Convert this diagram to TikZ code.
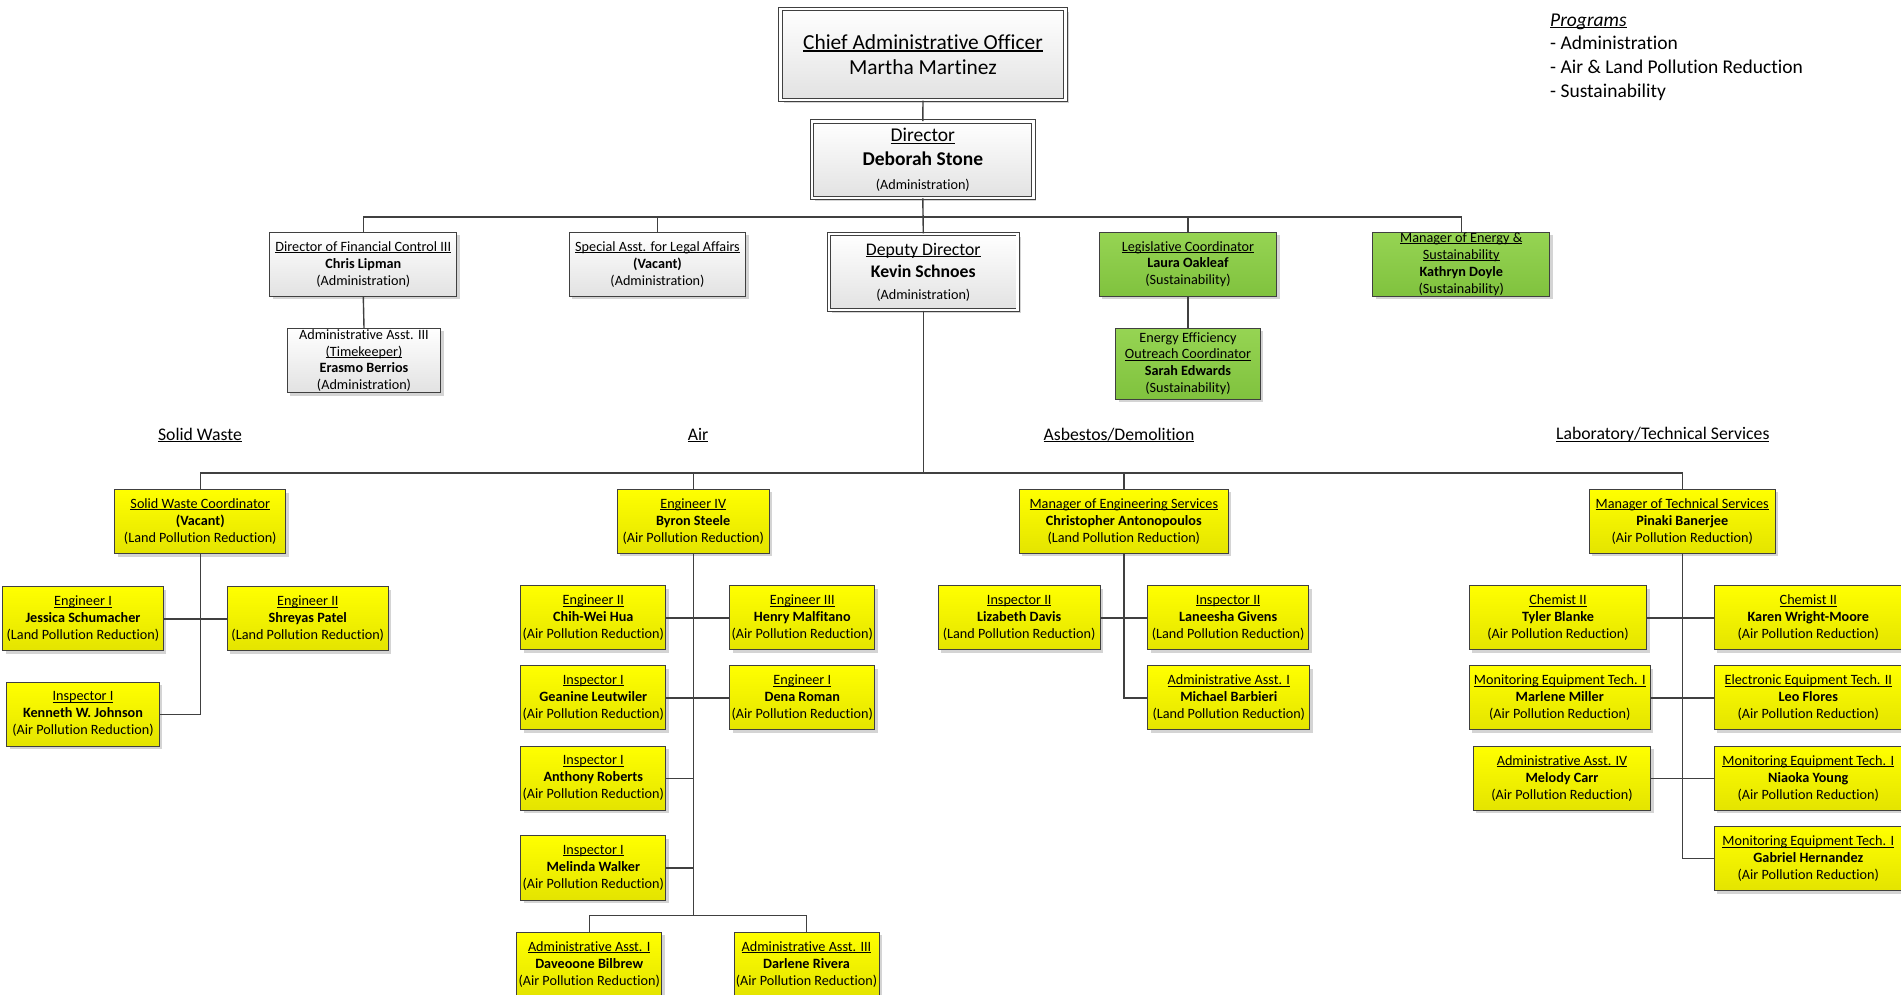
\documentclass[tikz,border=0pt]{standalone}
\usepackage{fontspec}
\setmainfont{Carlito}[Ligatures=NoCommon]
\usetikzlibrary{shadows}
\definecolor{bordc}{HTML}{404040}
\definecolor{linec}{HTML}{404040}
\definecolor{ytop}{HTML}{FFFF00}
\definecolor{ybot}{HTML}{E4E400}
\definecolor{gtop}{HTML}{96D453}
\definecolor{gbot}{HTML}{80C23E}
\definecolor{wtop}{HTML}{FFFFFF}
\definecolor{wbot}{HTML}{E2E2E2}
\definecolor{shad}{HTML}{D4D4D4}
\newcommand\ulx[1]{\setbox0\hbox{#1}\rlap{\rule[-0.12em]{\wd0}{0.065em}}\box0}
\newcommand\fsm{\fontsize{14.2}{16.9}\selectfont}
\newcommand\yb[6]{\node[ybox, minimum width=#3pt] (#1) at #2 {\ulx{#4}\\\textbf{#5}\\(#6)};}
\begin{document}
\begin{tikzpicture}[x=1pt,y=-1pt,
  box/.style={draw=bordc, line width=1pt, inner sep=0pt, align=center, font=\fsm,
    drop shadow={shadow xshift=3pt, shadow yshift=-3pt, fill=shad, opacity=1}},
  ybox/.style={box, top color=ytop, bottom color=ybot, minimum height=64.2pt},
  gbox/.style={box, top color=gtop, bottom color=gbot},
  wbox/.style={box, top color=wtop, bottom color=wbot},
  dbox/.style={wbox, double=white, double distance=2.6pt, line width=0.9pt},
  conn/.style={draw=linec, line width=1.4pt},
  sect/.style={inner sep=0pt, font=\fontsize{17.7}{21}\selectfont},
]
\useasboundingbox (0,0) rectangle (1901,994);

% top level
\node[dbox, minimum width=285pt, minimum height=91.2pt, font=\fontsize{21.4}{25.6}\selectfont] (cao) at (923,54.5)
  {\ulx{Chief Administrative Officer}\\Martha Martinez};
\node[dbox, minimum width=221.3pt, minimum height=76.3pt, font=\fontsize{19.5}{24}\selectfont] (dir) at (922.8,159.7)
  {\ulx{Director}\\\textbf{Deborah Stone}\\{\fsm (Administration)}};
\node[dbox, minimum width=188.9pt, minimum height=76.2pt, font=\fontsize{17.7}{22}\selectfont] (dep) at (923.3,272)
  {\ulx{Deputy Director}\\\textbf{Kevin Schnoes}\\{\fsm (Administration)}};

\node[wbox, minimum width=186.7pt, minimum height=63.7pt] (dfc) at (363.3,264.2)
  {\ulx{Director of Financial Control III}\\\textbf{Chris Lipman}\\(Administration)};
\node[wbox, minimum width=153.4pt, minimum height=64.4pt] (aa3) at (364,360.5)
  {Administrative Asst. III\\\ulx{(Timekeeper)}\\\textbf{Erasmo Berrios}\\(Administration)};
\node[wbox, minimum width=176.4pt, minimum height=63.7pt] (sala) at (657.5,264.2)
  {\ulx{Special Asst. for Legal Affairs}\\\textbf{(Vacant)}\\(Administration)};
\node[gbox, minimum width=177.4pt, minimum height=63.7pt] (leg) at (1188,264.2)
  {\ulx{Legislative Coordinator}\\\textbf{Laura Oakleaf}\\(Sustainability)};
\node[gbox, minimum width=144.6pt, minimum height=70.7pt] (eeo) at (1188,363.7)
  {Energy Efficiency\\\ulx{Outreach Coordinator}\\\textbf{Sarah Edwards}\\(Sustainability)};
\node[gbox, minimum width=177.3pt, minimum height=63.7pt] (moe) at (1461.3,264.2)
  {\ulx{Manager of Energy \&}\\\ulx{Sustainability}\\\textbf{Kathryn Doyle}\\(Sustainability)};

% programs legend
\node[inner sep=0pt, anchor=north west, align=left, font=\fontsize{19.5}{23.8}\selectfont] (prog) at (1550,13.4)
  {\ulx{\itshape Programs}\\- Administration\\- Air \& Land Pollution Reduction\\- Sustainability};

% section headers
\node[sect] (hsw) at (200,435) {\ulx{Solid Waste}};
\node[sect] (hair) at (698,435) {\ulx{Air}};
\node[sect] (hasb) at (1119,435) {\ulx{Asbestos/Demolition}};
\node[sect] (hlab) at (1662.8,435) {\ulx{Laboratory/Technical Services}};

% solid waste
\yb{swc}{(200.3,521.6)}{170.7}{Solid Waste Coordinator}{(Vacant)}{Land Pollution Reduction}
\yb{jess}{(83,618.8)}{160.6}{Engineer I}{Jessica Schumacher}{Land Pollution Reduction}
\yb{shre}{(307.8,618.8)}{161}{Engineer II}{Shreyas Patel}{Land Pollution Reduction}
\yb{kenn}{(83,714.2)}{152.6}{Inspector I}{Kenneth W. Johnson}{Air Pollution Reduction}
% air
\yb{byr}{(693.2,521.3)}{151.7}{Engineer IV}{Byron Steele}{Air Pollution Reduction}
\yb{chih}{(593.3,617.8)}{144.7}{Engineer II}{Chih-Wei Hua}{Air Pollution Reduction}
\yb{henr}{(802.3,617.8)}{144.7}{Engineer III}{Henry Malfitano}{Air Pollution Reduction}
\yb{gean}{(593.3,697.8)}{144.7}{Inspector I}{Geanine Leutwiler}{Air Pollution Reduction}
\yb{dena}{(802.3,697.8)}{144.7}{Engineer I}{Dena Roman}{Air Pollution Reduction}
\yb{anth}{(593.3,778.2)}{144.7}{Inspector I}{Anthony Roberts}{Air Pollution Reduction}
\yb{meli}{(593.3,868)}{144.7}{Inspector I}{Melinda Walker}{Air Pollution Reduction}
\yb{dave}{(589.2,964.5)}{145}{Administrative Asst. I}{Daveoone Bilbrew}{Air Pollution Reduction}
\yb{darl}{(806.5,964.5)}{145}{Administrative Asst. III}{Darlene Rivera}{Air Pollution Reduction}
% asbestos
\yb{mes}{(1123.8,521.3)}{209}{Manager of Engineering Services}{Christopher Antonopoulos}{Land Pollution Reduction}
\yb{liza}{(1019.2,617.8)}{161.7}{Inspector II}{Lizabeth Davis}{Land Pollution Reduction}
\yb{lane}{(1228.2,617.8)}{161}{Inspector II}{Laneesha Givens}{Land Pollution Reduction}
\yb{mich}{(1228.8,697.8)}{162.3}{Administrative Asst. I}{Michael Barbieri}{Land Pollution Reduction}
% lab
\yb{mts}{(1682.2,521.3)}{185.7}{Manager of Technical Services}{Pinaki Banerjee}{Air Pollution Reduction}
\yb{tyle}{(1558,617.8)}{177.4}{Chemist II}{Tyler Blanke}{Air Pollution Reduction}
\yb{kare}{(1808.3,617.8)}{188}{Chemist II}{Karen Wright-Moore}{Air Pollution Reduction}
\yb{marl}{(1559.8,697.8)}{181}{Monitoring Equipment Tech. I}{Marlene Miller}{Air Pollution Reduction}
\yb{leo}{(1808.3,697.8)}{188}{Electronic Equipment Tech. II}{Leo Flores}{Air Pollution Reduction}
\yb{melo}{(1562,778.2)}{177.4}{Administrative Asst. IV}{Melody Carr}{Air Pollution Reduction}
\yb{niao}{(1808.3,778.2)}{188}{Monitoring Equipment Tech. I}{Niaoka Young}{Air Pollution Reduction}
\yb{gabr}{(1808.3,858.7)}{188}{Monitoring Equipment Tech. I}{Gabriel Hernandez}{Air Pollution Reduction}

% connectors
\coordinate (dirbus) at (922.8,217);
\coordinate (depbus) at (923.3,473);
\coordinate (airbus) at (693.2,915.7);
\draw[conn] (cao.south) -- (dir.north);
\draw[conn] (dir.south) -- (dep.north);
\draw[conn] (dfc.north) -- (dfc.north |- dirbus) -| (moe.north);
\draw[conn] (sala.north) -- (sala.north |- dirbus);
\draw[conn] (leg.north) -- (leg.north |- dirbus);
\draw[conn] (dfc.south) -- (aa3.north);
\draw[conn] (leg.south) -- (eeo.north);

\draw[conn] (dep.south) -- (depbus);
\draw[conn] (swc.north) -- (swc.north |- depbus) -| (mts.north);
\draw[conn] (byr.north) -- (byr.north |- depbus);
\draw[conn] (mes.north) -- (mes.north |- depbus);

\draw[conn] (swc.south) |- (jess.east);
\draw[conn] (swc.south) |- (shre.west);
\draw[conn] (swc.south) |- (kenn.east);

\draw[conn] (byr.south) |- (chih.east);
\draw[conn] (byr.south) |- (henr.west);
\draw[conn] (byr.south) |- (gean.east);
\draw[conn] (byr.south) |- (dena.west);
\draw[conn] (byr.south) |- (anth.east);
\draw[conn] (byr.south) |- (meli.east);
\draw[conn] (byr.south) -- (airbus);
\draw[conn] (dave.north) -- (dave.north |- airbus) -| (darl.north);

\draw[conn] (mes.south) |- (liza.east);
\draw[conn] (mes.south) |- (lane.west);
\draw[conn] (mes.south) |- (mich.west);

\draw[conn] (mts.south) |- (tyle.east);
\draw[conn] (mts.south) |- (kare.west);
\draw[conn] (mts.south) |- (marl.east);
\draw[conn] (mts.south) |- (leo.west);
\draw[conn] (mts.south) |- (melo.east);
\draw[conn] (mts.south) |- (niao.west);
\draw[conn] (mts.south) |- (gabr.west);
\end{tikzpicture}
\end{document}
